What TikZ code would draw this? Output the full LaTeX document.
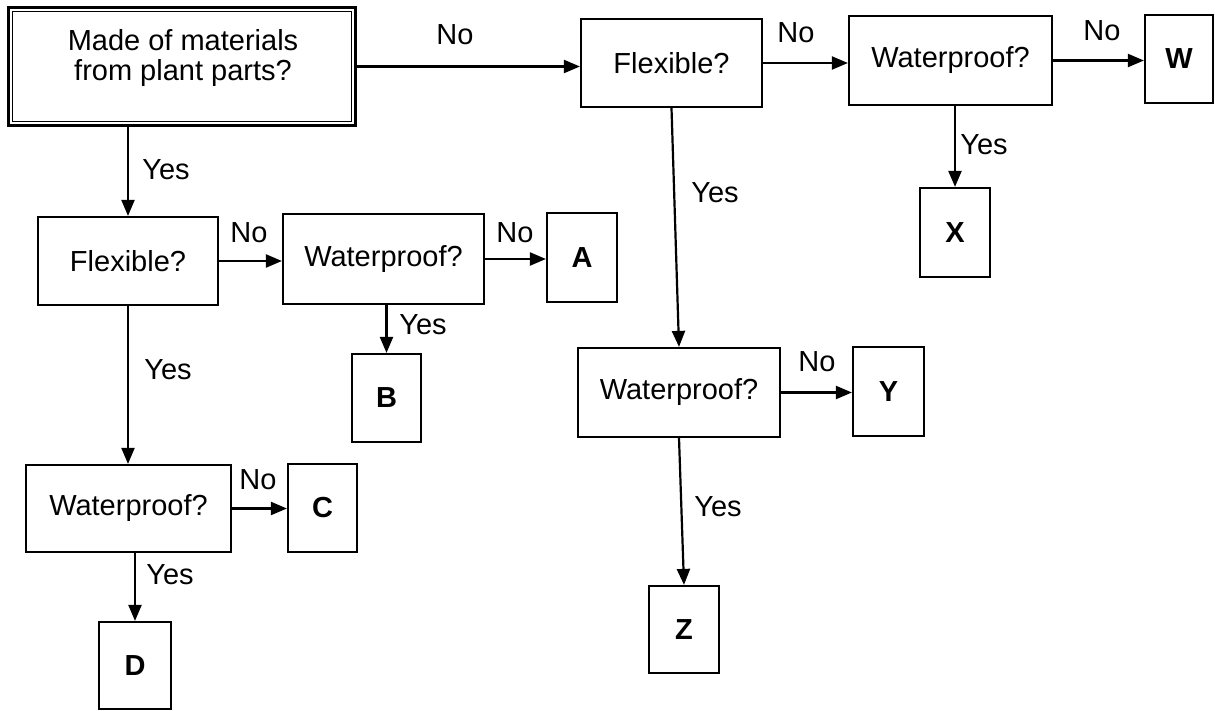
\documentclass[tikz,border=0pt]{standalone}
\usepackage{fontspec}
\setmainfont{Liberation Sans}
\usetikzlibrary{arrows.meta,calc}
\newcommand\myfs{\fontsize{29}{30}\selectfont}
\tikzset{
  box/.style={draw, line width=2.2pt, inner sep=0pt, font=\myfs, anchor=center},
  leaf/.style={box, font=\myfs\bfseries},
  lbl/.style={font=\myfs, inner sep=0pt, anchor=center},
  arr/.style={line width=2.2pt, -{Triangle[length=16pt,width=13pt]}},
}
\begin{document}
\begin{tikzpicture}[x=1pt,y=-1pt]
\useasboundingbox (0,0) rectangle (1215,711);
% root box (double border)
\node[draw, line width=3pt, inner sep=0pt, minimum width=347pt, minimum height=118pt] (root) at (182,66.5) {};
\draw[line width=1.6pt] ([xshift=5.5pt,yshift=-5.5pt]root.north west) rectangle ([xshift=-5.5pt,yshift=5.5pt]root.south east);
\node[lbl, anchor=base] (rootA) at (183,51) {Made of materials};
\node[lbl, anchor=base] (rootB) at (183,81) {from plant parts?};
% right branch
\node[box, minimum width=181pt, minimum height=88pt] (flexR) at (671.5,63) {Flexible?};
\node[box, minimum width=203pt, minimum height=89pt] (wR) at (950.5,60.5) {Waterproof?};
\node[leaf, minimum width=68pt, minimum height=88pt] (W) at (1179,59) {W};
\node[leaf, minimum width=70pt, minimum height=89pt] (X) at (955,232.5) {X};
\node[box, minimum width=202pt, minimum height=89pt] (wY) at (679,392.5) {Waterproof?};
\node[leaf, minimum width=71pt, minimum height=89pt] (Y) at (888.5,391.5) {Y};
\node[leaf, minimum width=70pt, minimum height=87pt] (Z) at (684,629.5) {Z};
% left branch
\node[box, minimum width=180pt, minimum height=88pt] (flexL) at (128,261) {Flexible?};
\node[box, minimum width=201pt, minimum height=90pt] (wM) at (383.5,259) {Waterproof?};
\node[leaf, minimum width=70pt, minimum height=89pt] (A) at (582,257.5) {A};
\node[leaf, minimum width=69pt, minimum height=88pt] (B) at (386.5,398) {B};
\node[box, minimum width=205pt, minimum height=87pt] (wL) at (128.5,508.5) {Waterproof?};
\node[leaf, minimum width=69pt, minimum height=88pt] (C) at (322.5,508) {C};
\node[leaf, minimum width=72pt, minimum height=87pt] (D) at (135,665.5) {D};
% connectors
\draw[arr] (root.east) -- (root.east -| flexR.west);
\draw[arr] (flexR.east) -- (flexR.east -| wR.west);
\draw[arr] (wR.east) -- (wR.east -| W.west);
\draw[arr] (X.north |- wR.south) -- (X.north);
\draw[arr] (flexR.south) -- (wY.north);
\draw[arr] (wY.east) -- (wY.east -| Y.west);
\draw[arr] (wY.south) -- (Z.north);
\draw[arr] (flexL.north |- root.south) -- (flexL.north);
\draw[arr] (flexL.east) -- (flexL.east -| wM.west);
\draw[arr] (wM.east) -- (wM.east -| A.west);
\draw[arr] (B.north |- wM.south) -- (B.north);
\draw[arr] (flexL.south) -- (flexL.south |- wL.north);
\draw[arr] (wL.east) -- (wL.east -| C.west);
\draw[arr] (D.north |- wL.south) -- (D.north);
% labels
\node[lbl] (l1) at (455,35) {No};
\node[lbl] (l2) at (796,33) {No};
\node[lbl] (l3) at (1102,31) {No};
\node[lbl] (l4) at (984,145) {Yes};
\node[lbl] (l5) at (715,193) {Yes};
\node[lbl] (l6) at (817,362) {No};
\node[lbl] (l7) at (718,507) {Yes};
\node[lbl] (l8) at (166,170) {Yes};
\node[lbl] (l9) at (249,233) {No};
\node[lbl] (l10) at (515,233) {No};
\node[lbl] (l11) at (423,325) {Yes};
\node[lbl] (l12) at (168,370) {Yes};
\node[lbl] (l13) at (258,480) {No};
\node[lbl] (l14) at (170,575) {Yes};
\end{tikzpicture}
\end{document}
